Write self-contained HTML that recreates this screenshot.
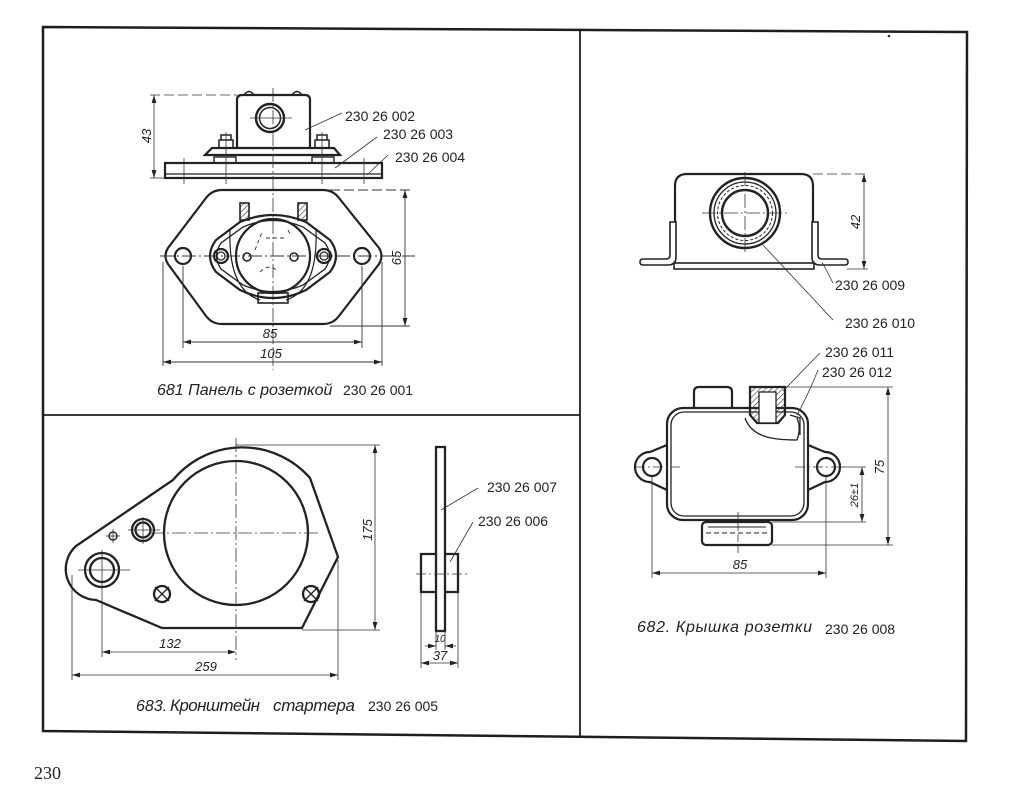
<!DOCTYPE html>
<html><head><meta charset="utf-8"><style>
html,body{margin:0;padding:0;background:#fff;}
svg{display:block;}
text{font-family:"Liberation Sans",sans-serif;fill:#222;}
.lab{font-size:14px;}
.cap{font-size:16px;font-style:italic;}
.dim{font-size:13px;font-style:italic;}
</style></head><body>
<svg width="1024" height="811" viewBox="0 0 1024 811" xmlns="http://www.w3.org/2000/svg">
<defs>
<marker id="a" viewBox="0 0 10 10" refX="10" refY="5" markerWidth="8" markerHeight="8" orient="auto-start-reverse" markerUnits="userSpaceOnUse"><path d="M0,2 L10,5 L0,8 Z" fill="#222"/></marker>
<pattern id="h" width="4" height="4" patternUnits="userSpaceOnUse" patternTransform="rotate(45)"><line x1="0" y1="0" x2="0" y2="4" stroke="#333" stroke-width="1.2"/></pattern>
</defs>
<rect width="1024" height="811" fill="#fff"/>

<!-- frame -->
<g fill="none" stroke="#1e1e1e" stroke-width="2.5">
<path d="M43,27 L967,32 L966,741 L43,731 Z"/>
<line x1="580" y1="29" x2="580" y2="737" stroke-width="1.8"/>
<line x1="43" y1="415" x2="580" y2="415" stroke-width="1.8"/>
</g>
<circle cx="889" cy="36" r="1.3" fill="#333"/>
<text x="34" y="779" style="font-family:'Liberation Serif',serif;font-size:18px;">230</text>

<!-- ========== 681 ========== -->
<g fill="none" stroke="#222" stroke-width="2.2">
<!-- side view -->
<path d="M237,148 L237,100 Q237,95 242,95 L305,95 Q310,95 310,100 L310,148"/>
<path d="M244,95 Q249,88 254,95 M292,95 Q297,88 302,95" stroke-width="1.6"/>
<circle cx="270" cy="118" r="14" stroke-width="2.4"/>
<circle cx="270" cy="118" r="10.5" stroke-width="1.5"/>
<path d="M212,148 L334,148 L340,155 L205,155 Z"/>
<rect x="214" y="157" width="22" height="6" stroke-width="1.4"/>
<rect x="312" y="157" width="22" height="6" stroke-width="1.4"/>
<path d="M219,148 L219,140 L233,140 L233,148 M221,140 L221,135 L231,135 L231,140" stroke-width="1.5"/>
<path d="M315,148 L315,140 L329,140 L329,148 M317,140 L317,135 L327,135 L327,140" stroke-width="1.5"/>
<rect x="165" y="163" width="217" height="15"/>
<line x1="165" y1="174" x2="382" y2="174" stroke-width="1.2"/>
</g>
<g stroke="#333" stroke-width="0.8" fill="none">
<line x1="273" y1="88" x2="273" y2="370" stroke-dasharray="14 3 2 3"/>
<line x1="250" y1="118" x2="292" y2="118"/>
<line x1="184" y1="158" x2="184" y2="184"/><line x1="226" y1="132" x2="226" y2="184"/>
<line x1="322" y1="132" x2="322" y2="184"/><line x1="364" y1="158" x2="364" y2="184"/>
<line x1="150" y1="95" x2="237" y2="95" stroke-dasharray="10 4"/>
<line x1="150" y1="178" x2="165" y2="178"/>
<line x1="154" y1="95" x2="154" y2="178" marker-start="url(#a)" marker-end="url(#a)"/>
<line x1="305" y1="130" x2="342" y2="113"/>
<line x1="335" y1="168" x2="377" y2="137"/>
<line x1="367" y1="175" x2="388" y2="155"/>
</g>
<text class="dim" transform="translate(151,136) rotate(-90)" text-anchor="middle">43</text>
<text class="lab" x="345" y="121">230 26 002</text>
<text class="lab" x="383" y="139">230 26 003</text>
<text class="lab" x="395" y="162">230 26 004</text>

<!-- top view -->
<g fill="none" stroke="#222" stroke-width="2.2">
<path d="M222,190 L323,190 Q333,190 339,198 L379,248 Q384,256 379,264 L339,316 Q333,324 323,324 L222,324 Q212,324 206,316 L168,264 Q163,256 168,248 L206,198 Q212,190 222,190 Z"/>
<circle cx="183" cy="256" r="8"/>
<circle cx="362" cy="256" r="8"/>
<path d="M240,222 Q273,208 306,222 L330,240 Q342,256 330,272 L306,290 Q273,306 240,290 L216,272 Q204,256 216,240 Z"/>
<path d="M243,227 Q273,214 303,227 L325,243 Q334,256 325,269 L303,285 Q273,298 243,285 L221,269 Q212,256 221,243 Z" stroke-width="1.3"/>
<circle cx="273" cy="256" r="37"/>
<circle cx="221" cy="256" r="7"/><circle cx="221" cy="256" r="4" stroke-width="1.3"/>
<circle cx="324" cy="256" r="7"/><circle cx="324" cy="256" r="4" stroke-width="1.3"/>
<circle cx="247" cy="257" r="4" stroke-width="1.5"/>
<circle cx="294" cy="257" r="4" stroke-width="1.5"/>
<rect x="258" y="293" width="30" height="10" stroke-width="1.6"/>
<rect x="240" y="203" width="9" height="17" stroke-width="1.6" fill="url(#h)"/>
<rect x="298" y="203" width="9" height="17" stroke-width="1.6" fill="url(#h)"/>
<path d="M230,230 Q228,290 260,300 M316,230 Q318,290 286,300" stroke-width="1.2"/>
</g>
<g stroke="#333" stroke-width="0.9" fill="none">
<path d="M255,250 L262,232 M266,238 L286,238 M288,230 L291,236 M260,272 Q270,262 278,272" stroke-dasharray="4 3"/>
<line x1="160" y1="256" x2="415" y2="256" stroke-dasharray="14 3 2 3"/>
<line x1="330" y1="190" x2="410" y2="190" stroke-dasharray="10 4"/>
<line x1="330" y1="326" x2="410" y2="326"/>
<line x1="405" y1="190" x2="405" y2="326" marker-start="url(#a)" marker-end="url(#a)"/>
<line x1="183" y1="266" x2="183" y2="348"/><line x1="362" y1="266" x2="362" y2="348"/>
<line x1="163" y1="262" x2="163" y2="366"/><line x1="382" y1="262" x2="382" y2="366"/>
<line x1="183" y1="342" x2="362" y2="342" marker-start="url(#a)" marker-end="url(#a)"/>
<line x1="163" y1="362" x2="382" y2="362" marker-start="url(#a)" marker-end="url(#a)"/>
</g>
<text class="dim" transform="translate(401,258) rotate(-90)" text-anchor="middle">65</text>
<text class="dim" x="270" y="338" text-anchor="middle">85</text>
<text class="dim" x="271" y="358" text-anchor="middle">105</text>
<text class="cap" x="157" y="395">681 Панель с розеткой</text>
<text class="lab" x="343" y="395">230 26 001</text>

<!-- ========== 683 ========== -->
<g fill="none" stroke="#222" stroke-width="2.3">
<path d="M173,480 A90,90 0 0 1 310,478 L338,557 L302,628 L162,628 L96,600 A31,31 0 0 1 76,546 Z"/>
<circle cx="236" cy="533" r="72"/>
<circle cx="102" cy="570" r="17"/><circle cx="102" cy="570" r="12"/>
<circle cx="143" cy="530" r="11"/><circle cx="143" cy="530" r="7.5"/>
<circle cx="113" cy="536" r="4" stroke-width="1.4"/>
<circle cx="162" cy="594" r="8"/>
<circle cx="311" cy="594" r="8"/>
<path d="M155,587 L169,601 M169,587 L155,601 M304,587 L318,601 M318,587 L304,601" stroke-width="1.3"/>
<!-- side view -->
<rect x="436" y="447" width="9" height="184"/>
<path d="M436,554 L421,554 L421,592 L436,592 M445,554 L458,554 L458,592 L445,592"/>
</g>
<g stroke="#333" stroke-width="0.8" fill="none">
<line x1="236" y1="438" x2="236" y2="660" stroke-dasharray="14 3 2 3"/>
<line x1="150" y1="533" x2="318" y2="533" stroke-dasharray="14 3 2 3"/>
<line x1="78" y1="570" x2="130" y2="570"/>
<line x1="102" y1="550" x2="102" y2="657"/>
<line x1="128" y1="530" x2="160" y2="530"/><line x1="143" y1="517" x2="143" y2="544"/>
<line x1="106" y1="536" x2="120" y2="536"/><line x1="113" y1="529" x2="113" y2="543"/>
<line x1="236" y1="445" x2="380" y2="445"/>
<line x1="302" y1="630" x2="380" y2="630"/>
<line x1="375" y1="445" x2="375" y2="630" marker-start="url(#a)" marker-end="url(#a)"/>
<line x1="72" y1="575" x2="72" y2="680"/><line x1="338" y1="560" x2="338" y2="680"/>
<line x1="102" y1="652" x2="236" y2="652" marker-start="url(#a)" marker-end="url(#a)"/>
<line x1="72" y1="675" x2="338" y2="675" marker-start="url(#a)" marker-end="url(#a)"/>
<line x1="416" y1="574" x2="468" y2="574" stroke-dasharray="10 3 2 3"/>
<line x1="421" y1="592" x2="421" y2="668"/><line x1="458" y1="592" x2="458" y2="668"/>
<line x1="436" y1="631" x2="436" y2="650"/><line x1="445" y1="631" x2="445" y2="650"/>
<line x1="425" y1="646" x2="436" y2="646" marker-end="url(#a)"/>
<line x1="456" y1="646" x2="445" y2="646" marker-end="url(#a)"/>
<line x1="421" y1="663" x2="458" y2="663" marker-start="url(#a)" marker-end="url(#a)"/>
<line x1="441" y1="510" x2="478" y2="488"/>
<line x1="450" y1="562" x2="473" y2="522"/>
</g>
<text class="dim" transform="translate(372,530) rotate(-90)" text-anchor="middle">175</text>
<text class="dim" x="170" y="648" text-anchor="middle">132</text>
<text class="dim" x="206" y="671" text-anchor="middle">259</text>
<text class="dim" x="440" y="642" text-anchor="middle" style="font-size:10px">10</text>
<text class="dim" x="440" y="660" text-anchor="middle">37</text>
<text class="lab" x="487" y="492">230 26 007</text>
<text class="lab" x="478" y="526">230 26 006</text>
<text class="cap" x="136" y="711">683.</text>
<text class="cap" x="170" y="711" style="font-size:17px" textLength="90">Кронштейн</text>
<text class="cap" x="273" y="711" style="font-size:17px" textLength="82">стартера</text>
<text class="lab" x="368" y="711">230 26 005</text>

<!-- ========== 682 ========== -->
<g fill="none" stroke="#222" stroke-width="2.2">
<path d="M675,222 L675,186 Q675,174 687,174 L801,174 Q813,174 813,186 L813,222"/>
<path d="M670,222 L670,255 Q670,259 666,259 L643,259 Q640,259 640,262 Q640,265 643,265 L668,265 Q676,265 676,257 L676,222 Z" stroke-width="1.6"/>
<path d="M818,222 L818,255 Q818,259 822,259 L845,259 Q848,259 848,262 Q848,265 845,265 L820,265 Q812,265 812,257 L812,222 Z" stroke-width="1.6"/>
<rect x="674" y="263" width="140" height="6" stroke-width="1.6"/>
<circle cx="745" cy="213" r="35" stroke-width="2.4"/>
<circle cx="745" cy="213" r="31" stroke-width="1.3"/>
<circle cx="745" cy="213" r="27.5" stroke-width="1" stroke-dasharray="3 2"/>
<circle cx="745" cy="213" r="23" stroke-width="2.4"/>
<!-- main view -->
<rect x="667" y="408" width="141" height="112" rx="16"/>
<rect x="671" y="412" width="133" height="104" rx="13" stroke-width="1.3"/>
<path d="M667,445 L650,452 A15,15 0 0 0 650,482 L667,490"/>
<path d="M808,445 L825,452 A15,15 0 0 1 825,482 L808,490"/>
<circle cx="652" cy="467" r="9"/>
<circle cx="826" cy="467" r="9"/>
<path d="M694,408 L694,392 Q694,387 699,387 L727,387 Q732,387 732,392 L732,408"/>
<line x1="732" y1="408" x2="750" y2="408" stroke-width="1.5"/>
<path d="M750,387 L785,387 L785,415 L778,423 L757,423 L750,415 Z" fill="url(#h)"/>
<rect x="759" y="392" width="17" height="31" fill="#fff" stroke-width="1.3"/>
<path d="M745,418 C752,438 775,440 797,440 C800,432 800,425 797,418" stroke-width="1.3"/>
<path d="M790,415 L800,418 L800,435" stroke-width="1.3"/>
<rect x="702" y="522" width="70" height="23" rx="4"/>
<line x1="708" y1="527" x2="766" y2="527" stroke-width="1"/>
<line x1="706" y1="533" x2="768" y2="533" stroke-width="1" stroke-dasharray="5 3"/>
</g>
<g stroke="#333" stroke-width="0.8" fill="none">
<line x1="702" y1="213" x2="788" y2="213" stroke-dasharray="14 3 2 3"/>
<line x1="745" y1="172" x2="745" y2="255" stroke-dasharray="14 3 2 3"/>
<line x1="813" y1="174" x2="868" y2="174" stroke-dasharray="10 4"/>
<line x1="847" y1="269" x2="868" y2="269"/>
<line x1="864" y1="174" x2="864" y2="269" marker-start="url(#a)" marker-end="url(#a)"/>
<line x1="822" y1="262" x2="833" y2="283"/>
<line x1="763" y1="245" x2="833" y2="320"/>
<line x1="635" y1="467" x2="680" y2="467" stroke-dasharray="10 3 2 3"/>
<line x1="795" y1="467" x2="845" y2="467" stroke-dasharray="10 3 2 3"/>
<line x1="738" y1="512" x2="738" y2="556" stroke-dasharray="8 3"/>
<line x1="785" y1="387" x2="893" y2="387"/>
<line x1="772" y1="545" x2="893" y2="545"/>
<line x1="888" y1="387" x2="888" y2="545" marker-start="url(#a)" marker-end="url(#a)"/>
<line x1="840" y1="467" x2="866" y2="467"/>
<line x1="772" y1="522" x2="866" y2="522"/>
<line x1="862" y1="467" x2="862" y2="522" marker-start="url(#a)" marker-end="url(#a)"/>
<line x1="652" y1="477" x2="652" y2="578"/>
<line x1="826" y1="477" x2="826" y2="578"/>
<line x1="652" y1="573" x2="826" y2="573" marker-start="url(#a)" marker-end="url(#a)"/>
<line x1="783" y1="391" x2="820" y2="353"/>
<path d="M797,415 Q808,395 818,370"/>
</g>
<text class="dim" transform="translate(860,222) rotate(-90)" text-anchor="middle">42</text>
<text class="lab" x="835" y="290">230 26 009</text>
<text class="lab" x="845" y="328">230 26 010</text>
<text class="lab" x="825" y="357">230 26 011</text>
<text class="lab" x="822" y="377">230 26 012</text>
<text class="dim" transform="translate(884,467) rotate(-90)" text-anchor="middle">75</text>
<text class="dim" transform="translate(858,495) rotate(-90)" text-anchor="middle" style="font-size:11px">26±1</text>
<text class="dim" x="740" y="569" text-anchor="middle">85</text>
<text class="cap" x="637" y="632" textLength="175">682. Крышка розетки</text>
<text class="lab" x="825" y="634">230 26 008</text>
</svg>
</body></html>
